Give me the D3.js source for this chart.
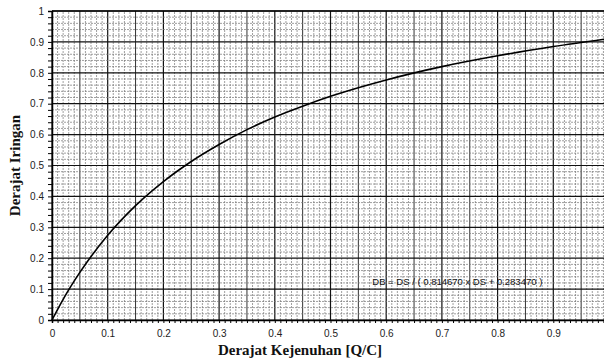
<!DOCTYPE html>
<html>
<head>
<meta charset="utf-8">
<script src="https://cdn.jsdelivr.net/npm/d3@7"></script>
<style>
  body { margin: 0; background: #fff; }
  svg { display: block; }
</style>
</head>
<body>
<div id="chart"></div>
<script>
// values
const dsValues = [0, 0.02, 0.05, 0.1, 0.15, 0.2, 0.25, 0.3, 0.35, 0.4, 0.45, 0.5, 0.6, 0.7, 0.8, 0.9, 1.0];
const dbValues = [0, 0.067, 0.154, 0.274, 0.37, 0.448, 0.513, 0.568, 0.616, 0.657, 0.692, 0.724, 0.777, 0.82, 0.855, 0.885, 0.911];
const xTickLabels = [0, 0.1, 0.2, 0.3, 0.4, 0.5, 0.6, 0.7, 0.8, 0.9];
const yTickLabels = [0, 0.1, 0.2, 0.3, 0.4, 0.5, 0.6, 0.7, 0.8, 0.9, 1];
const formulaText = "DB = DS / ( 0.814670 x DS + 0.283470 )";

const W = 604, H = 360;
const margin = { top: 11, left: 52, bottom: 40 };

const svg = d3.select("#chart").append("svg")
  .attr("width", W)
  .attr("height", H);

const x = d3.scaleLinear().domain([0, 1]).range([margin.left, 609]);
const y = d3.scaleLinear().domain([0, 1]).range([H - margin.bottom, margin.top]);

const g = svg.append("g");

// graph paper grid
const xMinor = d3.range(0, 101).map(i => i / 100);
const yMinor = d3.range(0, 51).map(i => i / 50);

function strokeFor(v) {
  const n = Math.round(v * 100);
  if (n % 10 === 0) return { c: "#111", w: 1.2 };
  if (n % 5 === 0) return { c: "#333", w: 1 };
  return { c: "#777", w: 0.7 };
}

g.selectAll("line.vx")
  .data(xMinor)
  .join("line")
  .attr("class", "vx")
  .attr("x1", d => x(d)).attr("x2", d => x(d))
  .attr("y1", y(0)).attr("y2", y(1))
  .attr("stroke", d => strokeFor(d).c)
  .attr("stroke-width", d => strokeFor(d).w)
  .attr("stroke-dasharray", d => Math.round(d * 100) % 5 === 0 ? null : "2,1");

g.selectAll("line.hy")
  .data(yMinor)
  .join("line")
  .attr("class", "hy")
  .attr("y1", d => y(d)).attr("y2", d => y(d))
  .attr("x1", x(0)).attr("x2", W)
  .attr("stroke", d => strokeFor(d).c)
  .attr("stroke-width", d => strokeFor(d).w)
  .attr("stroke-dasharray", d => Math.round(d * 100) % 10 === 0 ? null : "2,1");

// frame
g.append("line").attr("x1", x(0)).attr("x2", W).attr("y1", y(1)).attr("y2", y(1))
  .attr("stroke", "#000").attr("stroke-width", 1.5);

// axes
const xAxis = svg.append("g")
  .attr("transform", `translate(0,${y(0)})`)
  .call(d3.axisBottom(x).tickValues(xMinor.filter(d => d < 0.995)).tickSize(3)
    .tickFormat(d => xTickLabels.some(t => Math.abs(t - d) < 1e-9) ? d3.format("")(+d.toFixed(1)) : ""));
xAxis.select(".domain").attr("stroke", "#000").attr("stroke-width", 1.5);
xAxis.selectAll(".tick line").attr("stroke", "#000");
xAxis.selectAll("text")
  .attr("font-family", "Liberation Sans, Arial, sans-serif")
  .attr("font-size", 10)
  .attr("fill", "#222")
  .attr("dy", "1.1em");

const yAxis = svg.append("g")
  .attr("transform", `translate(${x(0)},0)`)
  .call(d3.axisLeft(y).tickValues(yMinor).tickSize(4)
    .tickFormat(d => yTickLabels.some(t => Math.abs(t - d) < 1e-9) ? d3.format("")(+d.toFixed(1)) : ""));
yAxis.select(".domain").attr("stroke", "#000").attr("stroke-width", 1.5);
yAxis.selectAll(".tick line").attr("stroke", "#000");
yAxis.selectAll("text")
  .attr("font-family", "Liberation Sans, Arial, sans-serif")
  .attr("font-size", 10)
  .attr("fill", "#222")
  .attr("x", -8);

// curve
const line = d3.line()
  .x((d, i) => x(dsValues[i]))
  .y(d => y(d))
  .curve(d3.curveMonotoneX);

svg.append("path")
  .datum(dbValues)
  .attr("d", line)
  .attr("fill", "none")
  .attr("stroke", "#000")
  .attr("stroke-width", 1.6);

// formula
svg.append("text")
  .attr("x", x(0.575))
  .attr("y", y(0.1) - 4)
  .attr("font-family", "Liberation Sans, Arial, sans-serif")
  .attr("font-size", 9.5)
  .attr("fill", "#111")
  .text(formulaText);

// axis titles
svg.append("text")
  .attr("x", 300)
  .attr("y", 355)
  .attr("text-anchor", "middle")
  .attr("font-family", "Liberation Serif, Times New Roman, serif")
  .attr("font-weight", "bold")
  .attr("font-size", 15)
  .attr("fill", "#111")
  .text("Derajat Kejenuhan [Q/C]");

svg.append("text")
  .attr("transform", `translate(20,${y(0.5)}) rotate(-90)`)
  .attr("text-anchor", "middle")
  .attr("font-family", "Liberation Serif, Times New Roman, serif")
  .attr("font-weight", "bold")
  .attr("font-size", 15)
  .attr("fill", "#111")
  .text("Derajat Iringan");
</script>
</body>
</html>
